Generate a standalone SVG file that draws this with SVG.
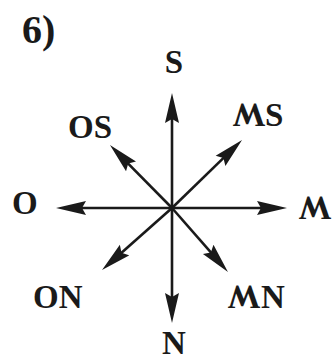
<svg xmlns="http://www.w3.org/2000/svg" width="334" height="362" viewBox="0 0 334 362">
<style>
.lbl{font-family:"Liberation Serif","DejaVu Serif",serif;font-weight:bold;font-size:33px;fill:#1a1a1a}
.ar{stroke:#1a1a1a;stroke-width:2.6;fill:none;marker-end:url(#ah)}
</style>
<defs>
<marker id="ah" markerUnits="userSpaceOnUse" markerWidth="32" markerHeight="16" viewBox="0 -8 32 16" refX="10" refY="0" orient="auto">
<path d="M30,0 L0,-7 L4,0 L0,7 Z" fill="#1a1a1a"/>
</marker>
</defs>
<rect width="334" height="362" fill="#fff"/>
<g id="title"><text class="lbl" x="22" y="43" style="font-size:40px">6)</text></g>
<g id="connectors">
<line class="ar" x1="172" y1="208" x2="172" y2="113"/>
<line class="ar" x1="172" y1="208" x2="172" y2="303"/>
<line class="ar" x1="172" y1="208" x2="76" y2="208"/>
<line class="ar" x1="172" y1="208" x2="267" y2="208"/>
<line class="ar" x1="172" y1="208" x2="124" y2="159.3"/>
<line class="ar" x1="172" y1="208" x2="227.7" y2="153.9"/>
<line class="ar" x1="172" y1="208" x2="117" y2="256.7"/>
<line class="ar" x1="172" y1="208" x2="214.8" y2="256.9"/>
</g>
<g id="n-S"><text class="lbl" x="174" y="73" text-anchor="middle">S</text></g>
<g id="n-OS"><text class="lbl" x="68" y="138">OS</text></g>
<g id="n-MS"><text class="lbl" x="249" y="126" text-anchor="middle" transform="rotate(180 249 115.1)">W</text><text class="lbl" x="265" y="126">S</text></g>
<g id="n-O"><text class="lbl" x="12" y="214">O</text></g>
<g id="n-M"><text class="lbl" x="315" y="219" text-anchor="middle" transform="rotate(180 315 208.1)">W</text></g>
<g id="n-ON"><text class="lbl" x="33" y="308">ON</text></g>
<g id="n-MN"><text class="lbl" x="244" y="308" text-anchor="middle" transform="rotate(180 244 297.1)">W</text><text class="lbl" x="261" y="308">N</text></g>
<g id="n-N"><text class="lbl" x="174" y="354" text-anchor="middle">N</text></g>
</svg>
